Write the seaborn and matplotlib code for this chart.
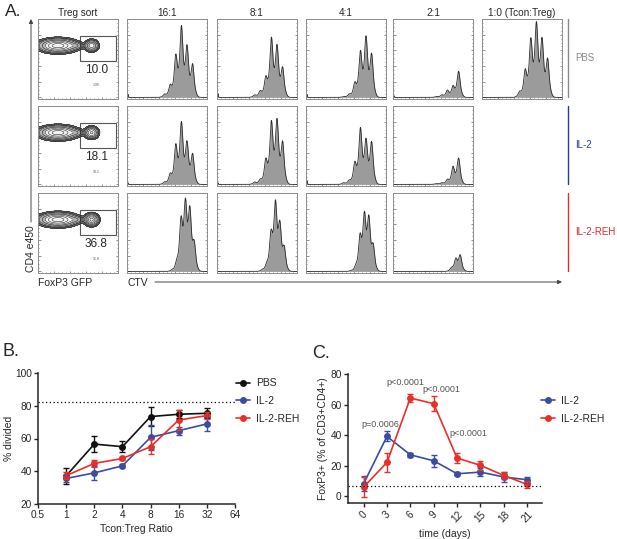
import numpy as np
import pandas as pd
import matplotlib
matplotlib.use("Agg")
import matplotlib.pyplot as plt
from matplotlib.patches import Rectangle
import seaborn as sns

sns.set_style("ticks")
plt.rcParams["font.family"] = ["Liberation Sans", "DejaVu Sans"]

# ---------------- data ----------------
# Panel A: CTV histograms (peak heights per division, gen0 = undivided)
ratio_headers = ["Treg sort", "16:1", "8:1", "4:1", "2:1", "1:0 (Tcon:Treg)"]
groups = ["PBS", "IL-2", "IL-2-REH"]
treg_pct = ["10.0", "18.1", "36.8"]
treg_small = ["1.99", "18.1", "36.8"]
treg_frac = [10.0, 18.1, 36.8]

pbs_peaks = [
    [0.41, 0.63, 0.88, 0.52, 0.15, 0.04],
    [0.37, 0.64, 0.74, 0.25, 0.08, 0.03],
    [0.54, 0.75, 0.57, 0.18, 0.04, 0.01],
    [0.33, 0.14, 0.09, 0.03, 0.01, 0.00],
    [0.48, 0.72, 0.92, 0.72, 0.34, 0.07],
]
il2_peaks = [
    [0.38, 0.52, 0.77, 0.49, 0.13, 0.03],
    [0.53, 0.80, 0.78, 0.31, 0.06, 0.03],
    [0.53, 0.55, 0.70, 0.27, 0.05, 0.02],
    [0.33, 0.22, 0.06, 0.02, 0.01, 0.00],
]
reh_peaks = [
    [0.33, 0.73, 0.81, 0.62, 0.10, 0.02],
    [0.28, 0.55, 0.82, 0.45, 0.08, 0.02],
    [0.30, 0.63, 0.67, 0.42, 0.05, 0.01],
    [0.20, 0.15, 0.04, 0.00, 0.00, 0.00],
]
pbs_debris = [0.04, 0.05, 0.04, 0.02, 0.0]
il2_debris = [0.02, 0.02, 0.05, 0.0]
reh_debris = [0.0, 0.0, 0.0, 0.0]
ctv_gen0 = [0.82, 0.82, 0.84]
ctv_step = [0.07, 0.07, 0.055]

# Panel B
ratio = [1, 2, 4, 8, 16, 32]
pbs_div = [37.2, 56.6, 55.0, 73.4, 74.8, 75.4]
pbs_sem = [5.0, 5.0, 3.5, 6.0, 2.5, 3.0]
il2_div = [35.6, 39.0, 43.3, 60.7, 64.8, 68.9]
il2_sem = [2.0, 4.5, 1.0, 7.6, 2.5, 4.3]
reh_div = [37.3, 44.8, 47.8, 55.0, 71.3, 74.0]
reh_sem = [2.0, 2.0, 1.0, 4.7, 6.0, 2.0]
b_ref = 82

# Panel C
days = [0, 3, 6, 9, 12, 15, 18, 21]
il2_foxp3 = [8.3, 39.2, 27.2, 23.3, 14.8, 15.9, 12.7, 10.9]
il2_foxp3_sem = [5.0, 3.3, 1.5, 4.0, 1.0, 2.5, 3.0, 2.0]
reh_foxp3 = [6.1, 22.2, 64.3, 60.6, 25.1, 20.3, 13.7, 7.8]
reh_foxp3_sem = [6.5, 6.5, 2.5, 5.0, 3.0, 3.0, 2.0, 2.0]
c_ref = 7
p_labels = ["p=0.0006", "p<0.0001", "p<0.0001", "p<0.0001"]
p_x = [2.15, 5.35, 9.95, 13.5]
p_y = [47.3, 74.5, 69.7, 40.8]

colors = {"PBS": "#111111", "IL-2": "#3a4d9f", "IL-2-REH": "#e8302a"}
group_line_colors = {"PBS": "#8a8a8a", "IL-2": "#2b3898", "IL-2-REH": "#e02b2b"}

# ---------------- figure ----------------
W, H = 617, 539
fig = plt.figure(figsize=(W / 100, H / 100), dpi=100)


def px_axes(x0, y0, x1, y1):
    return fig.add_axes([x0 / W, 1 - y1 / H, (x1 - x0) / W, (y1 - y0) / H])


ov = fig.add_axes([0, 0, 1, 1], zorder=-5)
ov.set_xlim(0, W)
ov.set_ylim(H, 0)
ov.axis("off")

col_x = [38, 127, 217, 306, 393, 482]
col_w = 80
row_y = [19, 106, 193]
row_h = 80


def flow_style(ax):
    ax.set_xlim(0, 1)
    ax.set_ylim(-0.02, 1.0)
    ax.set_xticks(np.linspace(0, 1, 6))
    ax.set_yticks(np.linspace(0, 1, 6))
    ax.set_xticks(np.linspace(0, 1, 21), minor=True)
    ax.set_yticks(np.linspace(0, 1, 21), minor=True)
    ax.tick_params(which="both", direction="in", length=1.8, width=0.5, colors="#666666",
                   labelbottom=False, labelleft=False, right=True)
    ax.tick_params(which="minor", length=1.0)
    for s in ax.spines.values():
        s.set_color("#8c8c8c")
        s.set_linewidth(0.7)


xs = np.linspace(0, 1, 600)


def hist_curve(heights, g0, step, debris):
    y = np.zeros_like(xs)
    for g, h in enumerate(heights):
        p = g0 - g * step
        y += h * (0.5 * np.exp(-0.5 * ((xs - p) / 0.014) ** 2)
                  + 0.5 * np.exp(-0.5 * ((xs - p) / 0.03) ** 2))
    y += debris * np.exp(-0.5 * ((xs - 0.012) / 0.005) ** 2)
    return y


all_peaks = [pbs_peaks, il2_peaks, reh_peaks]
all_debris = [pbs_debris, il2_debris, reh_debris]

gx, gy = np.meshgrid(np.linspace(0, 1, 300), np.linspace(0, 1, 300))

for r in range(3):
    # Treg sort contour panel
    ax = px_axes(col_x[0], row_y[r], col_x[0] + col_w, row_y[r] + row_h)
    flow_style(ax)
    amp_t = 0.3 + treg_frac[r] / 60
    Z = (np.exp(-0.5 * (((gx - 0.25) / 0.11) ** 2 + ((gy - 0.66) / 0.04) ** 2))
         + 0.15 * np.exp(-0.5 * (((gx - 0.47) / 0.05) ** 2 + ((gy - 0.66) / 0.022) ** 2))
         + amp_t * np.exp(-0.5 * (((gx - 0.67) / 0.04) ** 2 + ((gy - 0.66) / 0.035) ** 2)))
    levels = Z.max() * np.array([0.02, 0.05, 0.1, 0.2, 0.35, 0.55, 0.8])
    ax.contourf(gx, gy, Z, levels=[levels[0], levels[2], levels[4], 10],
                colors=["#6e6e6e", "#b5b5b5", "#f2f2f2"])
    ax.contour(gx, gy, Z, levels=levels, colors="#111111", linewidths=0.35)
    ax.add_patch(Rectangle((0.52, 0.46), 0.46, 0.32, fill=False, ec="#555555", lw=0.8))
    ax.text(0.73, 0.35, treg_pct[r], ha="center", va="center", fontsize=8.5)
    ax.text(0.73, 0.16, treg_small[r], ha="center", va="center", fontsize=2.5, color="#555555")

    # CTV histograms
    peaks = all_peaks[r]
    for c, hts in enumerate(peaks):
        ax = px_axes(col_x[c + 1], row_y[r], col_x[c + 1] + col_w, row_y[r] + row_h)
        flow_style(ax)
        yv = hist_curve(hts, ctv_gen0[r], ctv_step[r], all_debris[r][c])
        ax.fill_between(xs, 0, yv, color="#9b9b9b", lw=0)
        sns.lineplot(x=xs, y=yv, ax=ax, color="#2a2a2a", lw=0.6, estimator=None, sort=False)
        ax.set_xlabel("")
        ax.set_ylabel("")

# panel A annotations
ov.text(5, 11, "A.", fontsize=12.5, ha="left", va="center")
for c, lab in enumerate(ratio_headers):
    ov.text(col_x[c] + col_w / 2, 13, lab, fontsize=7.2, ha="center", va="center")
for r, g in enumerate(groups):
    ov.plot([568, 568], [row_y[r], row_y[r] + 78], color=group_line_colors[g], lw=1.0)
    ov.text(575, row_y[r] + 39, g, color=group_line_colors[g], fontsize=7.0, ha="left", va="center")
ov.annotate("", xy=(31, 19), xytext=(31, 222),
            arrowprops=dict(arrowstyle="-|>", lw=0.7, color="#444444", mutation_scale=6,
                            shrinkA=0, shrinkB=0))
ov.text(31.5, 249, "CD4 e450", rotation=90, fontsize=7.5, ha="center", va="center")
ov.text(38, 283, "FoxP3 GFP", fontsize=7.5, ha="left", va="center")
ov.text(127, 283, "CTV", fontsize=7.5, ha="left", va="center")
ov.annotate("", xy=(562, 282), xytext=(155, 282),
            arrowprops=dict(arrowstyle="-|>", lw=0.7, color="#444444", mutation_scale=6,
                            shrinkA=0, shrinkB=0))
ov.text(2, 352, "B.", fontsize=13, ha="left", va="center")
ov.text(312, 354, "C.", fontsize=13, ha="left", va="center")

# ---------------- Panel B ----------------
axb = px_axes(38, 373, 235, 504)
dfb = pd.DataFrame({
    "ratio": ratio * 3,
    "div": pbs_div + il2_div + reh_div,
    "group": ["PBS"] * 6 + ["IL-2"] * 6 + ["IL-2-REH"] * 6,
})
sems_b = {"PBS": pbs_sem, "IL-2": il2_sem, "IL-2-REH": reh_sem}
vals_b = {"PBS": pbs_div, "IL-2": il2_div, "IL-2-REH": reh_div}
sns.lineplot(data=dfb, x="ratio", y="div", hue="group", hue_order=groups, palette=colors,
             marker="o", markersize=5, markeredgewidth=0, lw=1.2, ax=axb, legend=False,
             estimator=None)
handles = list(axb.lines)
for g in groups:
    axb.errorbar(ratio, vals_b[g], yerr=sems_b[g], fmt="none", ecolor=colors[g],
                 elinewidth=1.0, capsize=2.5, capthick=1.0)
axb.axhline(b_ref, color="black", ls=(0, (1, 2)), lw=0.9, clip_on=False)
axb.set_xscale("log", base=2)
axb.set_xlim(0.5, 64)
axb.set_ylim(20, 100)
xt = [0.5, 1, 2, 4, 8, 16, 32, 64]
axb.set_xticks(xt)
axb.set_xticklabels(["0.5", "1", "2", "4", "8", "16", "32", "64"])
axb.minorticks_off()
axb.set_yticks([20, 40, 60, 80, 100])
axb.set_ylabel("% divided", fontsize=7.5, labelpad=0.5)
axb.set_xlabel("Tcon:Treg Ratio", fontsize=7.5, labelpad=3)
axb.tick_params(labelsize=7.3, length=3.0, width=1.0, pad=1.5)
for s in ["left", "bottom"]:
    axb.spines[s].set_linewidth(1.1)
sns.despine(ax=axb)
fig.legend(handles, groups, loc="center left", bbox_to_anchor=(236 / W, 1 - 401 / H),
           frameon=False, fontsize=7.5, handlelength=1.3, handletextpad=0.6,
           labelspacing=0.75, borderpad=0, borderaxespad=0)

# ---------------- Panel C ----------------
axc = px_axes(348, 374, 542, 503)
dfc = pd.DataFrame({
    "day": days * 2,
    "foxp3": il2_foxp3 + reh_foxp3,
    "group": ["IL-2"] * 8 + ["IL-2-REH"] * 8,
})
sns.lineplot(data=dfc, x="day", y="foxp3", hue="group", hue_order=["IL-2", "IL-2-REH"],
             palette=colors, marker="o", markersize=5, markeredgewidth=0, lw=1.2, ax=axc,
             legend=False, estimator=None)
handles_c = list(axc.lines)
axc.errorbar(days, il2_foxp3, yerr=il2_foxp3_sem, fmt="none", ecolor=colors["IL-2"],
             elinewidth=1.0, capsize=2.5, capthick=1.0)
axc.errorbar(days, reh_foxp3, yerr=reh_foxp3_sem, fmt="none", ecolor=colors["IL-2-REH"],
             elinewidth=1.0, capsize=2.5, capthick=1.0)
axc.axhline(c_ref, color="black", ls=(0, (1, 2)), lw=0.9)
for lab, px_, py_ in zip(p_labels, p_x, p_y):
    axc.text(px_, py_, lab, fontsize=6.5, color="#555555", ha="center", va="center")
axc.set_xlim(-2.0, 22.9)
axc.set_ylim(-4.3, 80)
axc.set_xticks(days)
axc.set_xticklabels([str(d) for d in days], rotation=45, ha="center")
axc.set_yticks([0, 20, 40, 60, 80])
axc.set_xlabel("time (days)", fontsize=7.5, labelpad=3)
axc.set_ylabel("FoxP3+ (% of CD3+CD4+)", fontsize=7.5, labelpad=2)
axc.tick_params(labelsize=7.3, length=3.0, width=1.0, pad=1.5)
for s in ["left", "bottom"]:
    axc.spines[s].set_linewidth(1.1)
sns.despine(ax=axc)
fig.legend(handles_c, ["IL-2", "IL-2-REH"], loc="center left",
           bbox_to_anchor=(541 / W, 1 - 410 / H), frameon=False, fontsize=7.5,
           handlelength=1.3, handletextpad=0.6, labelspacing=0.75, borderpad=0,
           borderaxespad=0)

fig.savefig("out.png", dpi=100)
